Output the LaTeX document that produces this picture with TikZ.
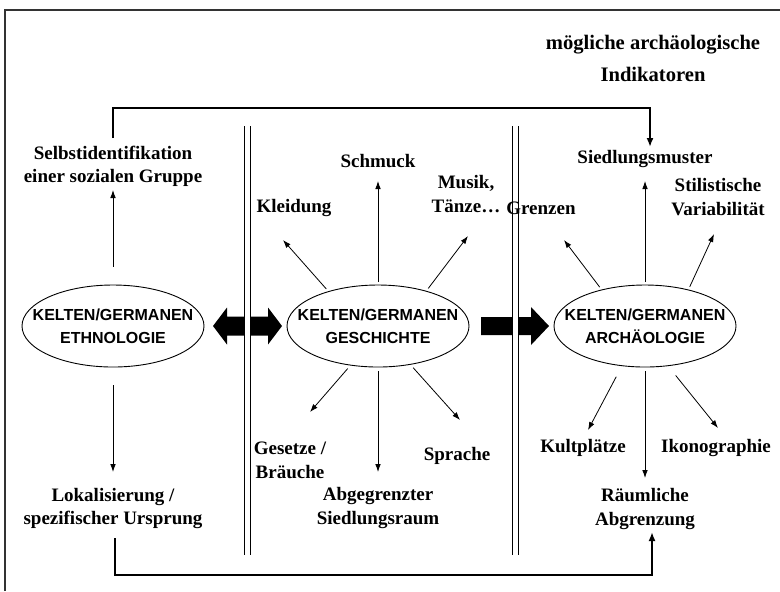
\documentclass[tikz,border=0pt]{standalone}
\usepackage{fontspec}
\setmainfont{Liberation Serif}
\newfontfamily\sansf{Liberation Sans}
\usetikzlibrary{arrows.meta,shapes.geometric}
\begin{document}
\begin{tikzpicture}[x=0.5pt,y=-0.5pt,
 lbl/.style={font=\fontsize{9.5}{11.8}\selectfont\bfseries, align=center, inner sep=0pt},
 ttl/.style={font=\fontsize{10.3}{14}\selectfont\bfseries, align=center, inner sep=0pt},
 ell/.style={draw, ellipse, line width=0.45pt, minimum width=91pt, minimum height=41pt, inner sep=0pt},
 etxt/.style={font=\sansf\fontsize{8}{11.6}\selectfont\bfseries, align=center, inner sep=0pt},
 arr/.style={-{Latex[length=4pt,width=2.8pt]}, line width=0.4pt},
 conn/.style={line width=1.3pt},
 connarr/.style={conn, -{Latex[length=4.5pt,width=3.5pt]}},
 dbl/.style={double, double distance=2.2pt, line width=0.6pt},
 frame/.style={line width=0.8pt, draw=black!80},
]
\useasboundingbox (0,0) rectangle (780,591);
% frame (top and left edges only)
\draw[frame] (5,591) -- (5,10) -- (780,10);

% title
\node[ttl] (title) at (653,58) {mögliche archäologische\\[2pt]Indikatoren};

% ellipses
\node[ell] (L) at (113,326) {};
\node[ell] (M) at (378,326) {};
\node[ell] (R) at (645,326) {};
\node[etxt] (Lt) at (L) {KELTEN/GERMANEN\\ETHNOLOGIE};
\node[etxt] (Mt) at (M) {KELTEN/GERMANEN\\GESCHICHTE};
\node[etxt] (Rt) at (R) {KELTEN/GERMANEN\\ARCHÄOLOGIE};

% block arrows
\fill (213,326) -- (227,307.5) -- (227,316.5) -- (268,316.5) -- (268,307.5) -- (282,326)
  -- (268,344.5) -- (268,335.5) -- (227,335.5) -- (227,344.5) -- cycle;
\fill (481,317) -- (531,317) -- (531,307) -- (549,326) -- (531,345) -- (531,335) -- (481,335) -- cycle;

% double separator lines
\coordinate (s1t) at (247.5,126); \coordinate (s1b) at (247.5,555);
\coordinate (s2t) at (515.5,126); \coordinate (s2b) at (515.5,555);
\draw[dbl] (s1t) -- (s1b);
\draw[dbl] (s2t) -- (s2b);

% left column labels
\node[lbl] (selb) at (113,166.5) {Selbstidentifikation\\einer sozialen Gruppe};
\node[lbl] (lok) at (113,508.5) {Lokalisierung /\\spezifischer Ursprung};

% middle labels
\node[lbl] (schmuck) at (378,161) {Schmuck};
\node[lbl] (kleid) at (294,208) {Kleidung};
\node[lbl] (musik) at (466,194) {Musik,\\Tänze…};
\node[lbl] (gesetze) at (290,460.5) {Gesetze /\\Bräuche};
\node[lbl] (abg) at (378,508) {Abgegrenzter\\Siedlungsraum};
\node[lbl] (sprache) at (457,456) {Sprache};

% right labels
\node[lbl] (sied) at (645,159) {Siedlungsmuster};
\node[lbl] (grenzen) at (541,208) {Grenzen};
\node[lbl] (stil) at (718,197) {Stilistische\\Variabilität};
\node[lbl] (kult) at (583,448) {Kultplätze};
\node[lbl] (raum) at (645,509) {Räumliche\\Abgrenzung};
\node[lbl] (ikon) at (716,448) {Ikonographie};

% arrow tips (named)
\coordinate (tSelb) at (113,190);
\coordinate (tLok) at (113,472);
\coordinate (tSchmuck) at (378,181);
\coordinate (tKleid) at (283,240);
\coordinate (tMusik) at (468,236);
\coordinate (tGes) at (310,412);
\coordinate (tAbg) at (378,472);
\coordinate (tSpr) at (460,420);
\coordinate (tSied) at (645,181);
\coordinate (tGren) at (564,240);
\coordinate (tStil) at (714,234);
\coordinate (tKult) at (588,430);
\coordinate (tRaum) at (645,478);
\coordinate (tIkon) at (718,428);

% thin arrows
\draw[arr, shorten <=9pt] (L.north) -- (tSelb);
\draw[arr, shorten <=9pt] (L.south) -- (tLok);
\draw[arr, shorten <=1.5pt] (M.north) -- (tSchmuck);
\draw[arr, shorten <=1.5pt] (M.145) -- (tKleid);
\draw[arr, shorten <=1.5pt] (M.36) -- (tMusik);
\draw[arr, shorten <=2pt] (M.235) -- (tGes);
\draw[arr, shorten <=2pt] (M.south) -- (tAbg);
\draw[arr, shorten <=2pt] (M.310) -- (tSpr);
\draw[arr, shorten <=1.5pt] (R.north) -- (tSied);
\draw[arr, shorten <=1.5pt] (R.140) -- (tGren);
\draw[arr, shorten <=1.5pt] (R.40) -- (tStil);
\draw[arr, shorten <=6pt] (R.240) -- (tKult);
\draw[arr, shorten <=2pt] (R.south) -- (tRaum);
\draw[arr, shorten <=6pt] (R.300) -- (tIkon);

% thick connectors
\coordinate (c1) at (113,138);
\coordinate (c2) at (650,147);
\draw[connarr] (c1) -- (113,108) -| (c2);
\coordinate (c3) at (115,538);
\coordinate (c4) at (652,532);
\draw[connarr] (c3) -- (115,575) -| (c4);
\end{tikzpicture}
\end{document}
